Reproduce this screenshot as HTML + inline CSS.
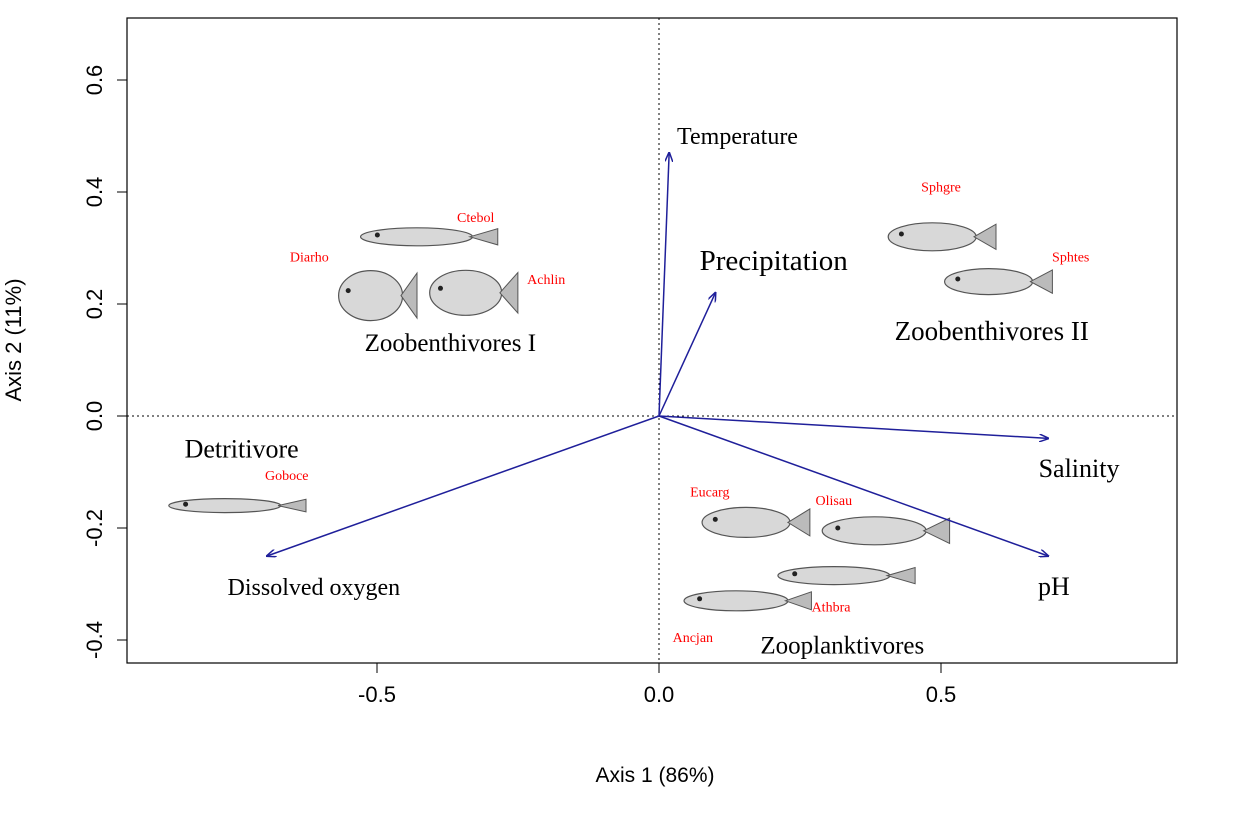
<!DOCTYPE html>
<html><head><meta charset="utf-8"><style>
body{margin:0;background:#fff;}
svg text{font-family:"Liberation Sans",sans-serif;}
.serif{font-family:"Liberation Serif",serif;}
</style></head><body>
<svg width="1242" height="823" viewBox="0 0 1242 823">
<defs><marker id="ah" markerWidth="10" markerHeight="8" refX="9" refY="4" orient="auto" markerUnits="userSpaceOnUse"><path d="M0,0 L10,4 L0,8" fill="none" stroke="#1f1f9a" stroke-width="1.5"/></marker></defs>
<rect x="127" y="18" width="1050" height="645" fill="none" stroke="#000" stroke-width="1.2"/>
<g id="ticks"></g>
<g id="fish"></g>
<g id="arrows"></g>
<g id="labels"></g>
<text x="655" y="782" font-size="21" text-anchor="middle">Axis 1 (86%)</text>
<text transform="translate(21,340) rotate(-90)" font-size="22" text-anchor="middle">Axis 2 (11%)</text>
</svg>
<script>
const xTicks=[-0.5,0.0,0.5];
const yTicks=[-0.4,-0.2,0.0,0.2,0.4,0.6];
const varNames=["Temperature","Precipitation","Salinity","pH","Dissolved oxygen"];
const varX=[0.018,0.10,0.69,0.69,-0.695];
const varY=[0.47,0.22,-0.04,-0.25,-0.25];
const groupNames=["Zoobenthivores I","Zoobenthivores II","Detritivore","Zooplanktivores"];
const groupX=[-0.37,0.59,-0.74,0.325];
const groupY=[0.13,0.15,-0.06,-0.41];
const spNames=["Ctebol","Diarho","Achlin","Sphgre","Sphtes","Goboce","Eucarg","Olisau","Athbra","Ancjan"];
const spX=[-0.325,-0.62,-0.2,0.5,0.73,-0.66,0.09,0.31,0.305,0.06];
const spY=[0.355,0.285,0.245,0.41,0.285,-0.105,-0.135,-0.15,-0.34,-0.395];
const fishX=[-0.41,-0.5,-0.33,0.5,0.6,-0.75,0.17,0.4,0.33,0.155];
const fishY=[0.32,0.215,0.22,0.32,0.24,-0.16,-0.19,-0.205,-0.285,-0.33];
const fishW=[140,80,90,110,110,140,110,130,140,130];
const fishH=[18,50,45,28,26,14,30,28,18,20];
const sx=v=>659+v*564, sy=v=>416-v*560;
const NS="http://www.w3.org/2000/svg";
function mk(p,t,a){const e=document.createElementNS(NS,t);for(const k in a)e.setAttribute(k,a[k]);p.appendChild(e);return e;}
const T=document.getElementById('ticks');
xTicks.forEach(v=>{const l=mk(T,'line',{x1:sx(v),x2:sx(v),y1:663,y2:673,stroke:'#000'});


const t=mk(T,'text',{x:sx(v),y:702,'font-size':22,'text-anchor':'middle'});t.textContent=v.toFixed(1);

});
yTicks.forEach(v=>{const l=mk(T,'line',{x1:117,x2:127,y1:sy(v),y2:sy(v),stroke:'#000'});


const t=mk(T,'text',{transform:`translate(102,${sy(v)}) rotate(-90)`,'font-size':22,'text-anchor':'middle'});t.textContent=v.toFixed(1);

});
const z1=mk(T,'line',{x1:127,x2:1177,y1:sy(0),y2:sy(0),stroke:'#000','stroke-dasharray':'2,3'});


const z2=mk(T,'line',{x1:sx(0),x2:sx(0),y1:18,y2:663,stroke:'#000','stroke-dasharray':'2,3'});


const F=document.getElementById('fish');
fishX.forEach((v,i)=>{const cx=sx(v),cy=sy(fishY[i]),w=fishW[i],h=fishH[i];
const g=mk(F,'g',{});


mk(g,'ellipse',{cx:cx-w*0.08,cy:cy,rx:w*0.4,ry:h/2,fill:'#d8d8d8',stroke:'#555','stroke-width':1.2});
mk(g,'path',{d:`M${cx+w*0.3},${cy} L${cx+w/2},${cy-h*0.45} L${cx+w/2},${cy+h*0.45}Z`,fill:'#bbb',stroke:'#555'});
mk(g,'circle',{cx:cx-w*0.36,cy:cy-h*0.1,r:2.5,fill:'#222'});});
const A=document.getElementById('arrows');
varX.forEach((v,i)=>{const l=mk(A,'line',{x1:sx(0),y1:sy(0),x2:sx(v),y2:sy(varY[i]),stroke:'#1f1f9a','stroke-width':1.5,'marker-end':'url(#ah)'});

});
const L=document.getElementById('labels');
const varLX=[0.032,0.072,0.673,0.672,-0.765], varLY=[0.5,0.275,-0.095,-0.305,-0.305], varFS=[24,29,26,26,24];
varNames.forEach((n,i)=>{const t=mk(L,'text',{x:sx(varLX[i]),y:sy(varLY[i])+8,'font-size':varFS[i],class:'serif'});t.textContent=n;

});
const gFS=[25,27,26,25];
groupNames.forEach((n,i)=>{const t=mk(L,'text',{x:sx(groupX[i]),y:sy(groupY[i])+8,'font-size':gFS[i],'text-anchor':'middle',class:'serif'});t.textContent=n;

});
spNames.forEach((n,i)=>{const t=mk(L,'text',{x:sx(spX[i]),y:sy(spY[i])+5,'font-size':14,fill:'#f00','text-anchor':'middle',class:'serif'});t.textContent=n;

});
</script>
</body></html>
